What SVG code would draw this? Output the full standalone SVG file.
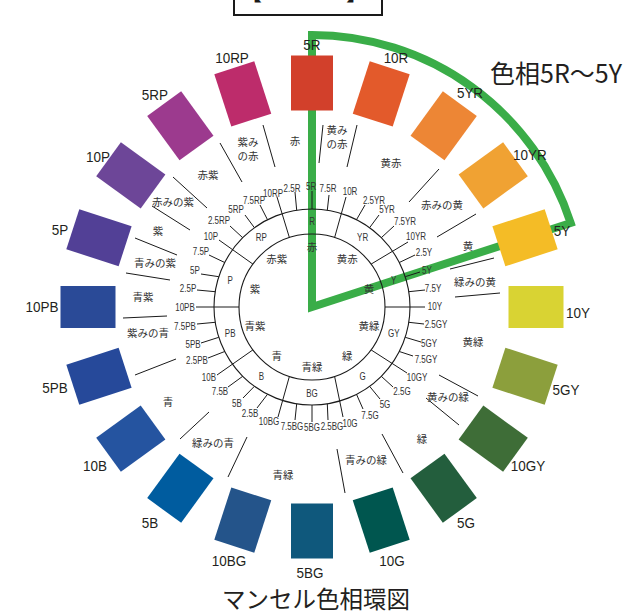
<svg xmlns="http://www.w3.org/2000/svg" width="627" height="614" viewBox="0 0 627 614">
<style>
.hl{font-family:"Liberation Sans",Arial,sans-serif;font-size:10px;fill:#333;text-anchor:middle;transform-box:fill-box;transform-origin:center;transform:scaleX(0.8)}
.big{font-family:"Liberation Sans",Arial,sans-serif;font-size:15px;fill:#231f20;text-anchor:middle;transform-box:fill-box;transform-origin:center;transform:scaleX(0.9)}
.jp{font-family:"Noto Sans CJK JP",sans-serif;font-size:10.5px;fill:#333;text-anchor:middle}
.ln{stroke:#1a1a1a;stroke-width:1;fill:none}
.ring{stroke:#1a1a1a;stroke-width:1.1;fill:none}
.sq{stroke:none}
</style>
<rect width="627" height="614" fill="#fff"/>
<g id="title-box">
<rect x="234" y="-12" width="148" height="27" fill="none" stroke="#1a1a1a" stroke-width="2"/>
<text x="251" y="0" font-family="Noto Sans CJK JP,sans-serif" font-size="22" text-anchor="middle" fill="#1a1a1a">【</text>
<text x="357" y="0" font-family="Noto Sans CJK JP,sans-serif" font-size="22" text-anchor="middle" fill="#1a1a1a">】</text>
</g>
<g id="hue-range">
<path d="M312,35 L312,307 L570.7,223 A272,272 0 0,0 312,35 Z" fill="none" stroke="#3aad48" stroke-width="8" stroke-miterlimit="10"/>
<text x="490" y="83" font-family="Noto Sans CJK JP,sans-serif" font-size="25" fill="#231f20">色相5R〜5Y</text>
</g>
<g id="squares">
<g id="n-5R"><rect class="sq" x="291" y="55.5" width="42" height="55" fill="#d2402b" transform="rotate(0 312 307)"/><text class="big" x="312" y="50">5R</text></g>
<g id="n-10R"><rect class="sq" x="291" y="55.5" width="42" height="55" fill="#e35a2b" transform="rotate(18 312 307)"/><text class="big" x="396" y="63">10R</text></g>
<g id="n-5YR"><rect class="sq" x="291" y="55.5" width="42" height="55" fill="#ed8635" transform="rotate(36 312 307)"/><text class="big" x="470" y="98">5YR</text></g>
<g id="n-10YR"><rect class="sq" x="291" y="55.5" width="42" height="55" fill="#f0a233" transform="rotate(54 312 307)"/><text class="big" x="530" y="160">10YR</text></g>
<g id="n-5Y"><rect class="sq" x="291" y="55.5" width="42" height="55" fill="#f4bc26" transform="rotate(72 312 307)"/><text class="big" x="562" y="236">5Y</text></g>
<g id="n-10Y"><rect class="sq" x="291" y="55.5" width="42" height="55" fill="#d9d333" transform="rotate(90 312 307)"/><text class="big" x="578" y="318">10Y</text></g>
<g id="n-5GY"><rect class="sq" x="291" y="55.5" width="42" height="55" fill="#8c9f3c" transform="rotate(108 312 307)"/><text class="big" x="566" y="395">5GY</text></g>
<g id="n-10GY"><rect class="sq" x="291" y="55.5" width="42" height="55" fill="#3e6d37" transform="rotate(126 312 307)"/><text class="big" x="528" y="471">10GY</text></g>
<g id="n-5G"><rect class="sq" x="291" y="55.5" width="42" height="55" fill="#235e3d" transform="rotate(144 312 307)"/><text class="big" x="466" y="528">5G</text></g>
<g id="n-10G"><rect class="sq" x="291" y="55.5" width="42" height="55" fill="#00564f" transform="rotate(162 312 307)"/><text class="big" x="392" y="566">10G</text></g>
<g id="n-5BG"><rect class="sq" x="291" y="55.5" width="42" height="55" fill="#0f587c" transform="rotate(180 312 307)"/><text class="big" x="310" y="578">5BG</text></g>
<g id="n-10BG"><rect class="sq" x="291" y="55.5" width="42" height="55" fill="#24548a" transform="rotate(198 312 307)"/><text class="big" x="229" y="566">10BG</text></g>
<g id="n-5B"><rect class="sq" x="291" y="55.5" width="42" height="55" fill="#005c9f" transform="rotate(216 312 307)"/><text class="big" x="150" y="528">5B</text></g>
<g id="n-10B"><rect class="sq" x="291" y="55.5" width="42" height="55" fill="#2554a0" transform="rotate(234 312 307)"/><text class="big" x="95" y="471">10B</text></g>
<g id="n-5PB"><rect class="sq" x="291" y="55.5" width="42" height="55" fill="#26499a" transform="rotate(252 312 307)"/><text class="big" x="55" y="393">5PB</text></g>
<g id="n-10PB"><rect class="sq" x="291" y="55.5" width="42" height="55" fill="#2a4a97" transform="rotate(270 312 307)"/><text class="big" x="42" y="312">10PB</text></g>
<g id="n-5P"><rect class="sq" x="291" y="55.5" width="42" height="55" fill="#524096" transform="rotate(288 312 307)"/><text class="big" x="60" y="235">5P</text></g>
<g id="n-10P"><rect class="sq" x="291" y="55.5" width="42" height="55" fill="#6d4698" transform="rotate(306 312 307)"/><text class="big" x="98" y="162">10P</text></g>
<g id="n-5RP"><rect class="sq" x="291" y="55.5" width="42" height="55" fill="#9c3a8e" transform="rotate(324 312 307)"/><text class="big" x="155" y="100">5RP</text></g>
<g id="n-10RP"><rect class="sq" x="291" y="55.5" width="42" height="55" fill="#bd2c6b" transform="rotate(342 312 307)"/><text class="big" x="232" y="63">10RP</text></g>
</g>
<g id="rings">
<circle class="ring" cx="312" cy="307" r="98"/>
<circle class="ring" cx="312" cy="307" r="73"/>
</g>
<g id="connectors">
<line class="ln" x1="295" y1="192" x2="296.7" y2="210.2"/>
<line class="ln" x1="312" y1="191" x2="312" y2="209"/>
<line class="ln" x1="329" y1="195" x2="327.3" y2="210.2"/>
<line class="ln" x1="346" y1="197" x2="334.6" y2="237.6"/>
<line class="ln" x1="365" y1="205" x2="356.5" y2="219.7"/>
<line class="ln" x1="379" y1="215" x2="369.6" y2="227.7"/>
<line class="ln" x1="394" y1="226" x2="381.3" y2="237.7"/>
<line class="ln" x1="408" y1="242" x2="371.1" y2="264.1"/>
<line class="ln" x1="415" y1="255" x2="399.3" y2="262.5"/>
<line class="ln" x1="420" y1="272" x2="405.2" y2="276.7"/>
<line class="ln" x1="425" y1="290" x2="408.8" y2="291.7"/>
<line class="ln" x1="425" y1="307" x2="385" y2="307"/>
<line class="ln" x1="424" y1="324" x2="408.8" y2="322.3"/>
<line class="ln" x1="421" y1="342" x2="405.2" y2="337.3"/>
<line class="ln" x1="413" y1="356" x2="399.3" y2="351.5"/>
<line class="ln" x1="407" y1="373" x2="371.1" y2="349.9"/>
<line class="ln" x1="393" y1="387" x2="381.3" y2="376.3"/>
<line class="ln" x1="380" y1="399" x2="369.6" y2="386.3"/>
<line class="ln" x1="363" y1="409" x2="356.5" y2="394.3"/>
<line class="ln" x1="343" y1="417" x2="334.6" y2="376.4"/>
<line class="ln" x1="328" y1="420" x2="327.3" y2="403.8"/>
<line class="ln" x1="312" y1="422" x2="312" y2="405"/>
<line class="ln" x1="295" y1="420" x2="296.7" y2="403.8"/>
<line class="ln" x1="278" y1="417" x2="289.4" y2="376.4"/>
<line class="ln" x1="257" y1="408" x2="267.5" y2="394.3"/>
<line class="ln" x1="243" y1="398" x2="254.4" y2="386.3"/>
<line class="ln" x1="228" y1="387" x2="242.7" y2="376.3"/>
<line class="ln" x1="217" y1="375" x2="252.9" y2="349.9"/>
<line class="ln" x1="208" y1="358" x2="224.7" y2="351.5"/>
<line class="ln" x1="201" y1="343" x2="218.8" y2="337.3"/>
<line class="ln" x1="197" y1="324" x2="215.2" y2="322.3"/>
<line class="ln" x1="196" y1="307" x2="239" y2="307"/>
<line class="ln" x1="197" y1="290" x2="215.2" y2="291.7"/>
<line class="ln" x1="201" y1="274" x2="218.8" y2="276.7"/>
<line class="ln" x1="209" y1="255" x2="224.7" y2="262.5"/>
<line class="ln" x1="219" y1="240" x2="252.9" y2="264.1"/>
<line class="ln" x1="230" y1="226" x2="242.7" y2="237.7"/>
<line class="ln" x1="245" y1="215" x2="254.4" y2="227.7"/>
<line class="ln" x1="260" y1="205" x2="267.5" y2="219.7"/>
<line class="ln" x1="277" y1="197" x2="289.4" y2="237.6"/>
<line class="ln" x1="263" y1="125" x2="275" y2="167"/>
<line class="ln" x1="220" y1="143" x2="242" y2="182"/>
<line class="ln" x1="173" y1="177" x2="207" y2="208"/>
<line class="ln" x1="152" y1="206" x2="190" y2="230"/>
<line class="ln" x1="135" y1="238" x2="177" y2="255"/>
<line class="ln" x1="126" y1="273" x2="170" y2="280"/>
<line class="ln" x1="123" y1="318" x2="167" y2="316"/>
<line class="ln" x1="135" y1="375" x2="176" y2="359"/>
<line class="ln" x1="180" y1="439" x2="209" y2="412"/>
<line class="ln" x1="228" y1="477" x2="247" y2="437"/>
<line class="ln" x1="337" y1="449" x2="345" y2="493"/>
<line class="ln" x1="382" y1="434" x2="403" y2="473"/>
<line class="ln" x1="426" y1="398" x2="459" y2="425"/>
<line class="ln" x1="439" y1="375" x2="478" y2="396"/>
<line class="ln" x1="455" y1="297" x2="500" y2="293"/>
<line class="ln" x1="450" y1="269" x2="494" y2="258"/>
<line class="ln" x1="437" y1="237" x2="476" y2="214"/>
<line class="ln" x1="409" y1="202" x2="439" y2="169"/>
<line class="ln" x1="347" y1="167" x2="357" y2="125"/>
<line class="ln" x1="319" y1="163" x2="323" y2="125"/>
</g>
<g id="hue-labels">
<text class="hl" x="292" y="191.6">2.5R</text>
<text class="hl" x="311" y="189.6">5R</text>
<text class="hl" x="328" y="191.6">7.5R</text>
<text class="hl" x="350" y="194.6">10R</text>
<text class="hl" x="374" y="203.6">2.5YR</text>
<text class="hl" x="387" y="212.6">5YR</text>
<text class="hl" x="405" y="224.6">7.5YR</text>
<text class="hl" x="416" y="239.6">10YR</text>
<text class="hl" x="424" y="255.6">2.5Y</text>
<text class="hl" x="427" y="273.6">5Y</text>
<text class="hl" x="433" y="291.6">7.5Y</text>
<text class="hl" x="435" y="309.6">10Y</text>
<text class="hl" x="436" y="327.6">2.5GY</text>
<text class="hl" x="429" y="346.6">5GY</text>
<text class="hl" x="426" y="362.6">7.5GY</text>
<text class="hl" x="417" y="380.6">10GY</text>
<text class="hl" x="402" y="394.6">2.5G</text>
<text class="hl" x="385" y="407.6">5G</text>
<text class="hl" x="370" y="418.6">7.5G</text>
<text class="hl" x="350" y="426.6">10G</text>
<text class="hl" x="332" y="429.6">2.5BG</text>
<text class="hl" x="312" y="430.6">5BG</text>
<text class="hl" x="292" y="429.6">7.5BG</text>
<text class="hl" x="269" y="424.6">10BG</text>
<text class="hl" x="250" y="416.6">2.5B</text>
<text class="hl" x="237" y="406.6">5B</text>
<text class="hl" x="220" y="394.6">7.5B</text>
<text class="hl" x="209" y="380.6">10B</text>
<text class="hl" x="197" y="363.6">2.5PB</text>
<text class="hl" x="193" y="347.6">5PB</text>
<text class="hl" x="185" y="329.6">7.5PB</text>
<text class="hl" x="185" y="310.6">10PB</text>
<text class="hl" x="188" y="291.6">2.5P</text>
<text class="hl" x="195" y="273.6">5P</text>
<text class="hl" x="201" y="254.6">7.5P</text>
<text class="hl" x="211" y="239.6">10P</text>
<text class="hl" x="219" y="223.6">2.5RP</text>
<text class="hl" x="236" y="212.6">5RP</text>
<text class="hl" x="254" y="203.6">7.5RP</text>
<text class="hl" x="273" y="196.6">10RP</text>
</g>
<g id="sector-labels">
<text class="hl" x="312" y="224.6">R</text>
<text class="hl" x="362.6" y="241">YR</text>
<text class="hl" x="393.8" y="284">Y</text>
<text class="hl" x="393.8" y="337.2">GY</text>
<text class="hl" x="362.6" y="380.2">G</text>
<text class="hl" x="312" y="396.6">BG</text>
<text class="hl" x="261.4" y="380.2">B</text>
<text class="hl" x="230.2" y="337.2">PB</text>
<text class="hl" x="230.2" y="284">P</text>
<text class="hl" x="261.4" y="241">RP</text>
</g>
<g id="inner-names">
<text class="jp" x="312" y="251">赤</text>
<text class="jp" x="347.3" y="262.5">黄赤</text>
<text class="jp" x="369.1" y="292.5">黄</text>
<text class="jp" x="369.1" y="329.5">黄緑</text>
<text class="jp" x="347.3" y="359.5">緑</text>
<text class="jp" x="312" y="371">青緑</text>
<text class="jp" x="276.7" y="359.5">青</text>
<text class="jp" x="254.9" y="329.5">青紫</text>
<text class="jp" x="254.9" y="292.5">紫</text>
<text class="jp" x="276.7" y="262.5">赤紫</text>
</g>
<g id="outer-names">
<text class="jp" x="295" y="145">赤</text>
<text class="jp" x="248" y="146">紫み</text>
<text class="jp" x="248" y="160">の赤</text>
<text class="jp" x="337" y="134">黄み</text>
<text class="jp" x="337" y="148">の赤</text>
<text class="jp" x="208" y="179">赤紫</text>
<text class="jp" x="173" y="206">赤みの紫</text>
<text class="jp" x="158" y="235">紫</text>
<text class="jp" x="155" y="267">青みの紫</text>
<text class="jp" x="143" y="301">青紫</text>
<text class="jp" x="148" y="337">紫みの青</text>
<text class="jp" x="168" y="406">青</text>
<text class="jp" x="213" y="447">緑みの青</text>
<text class="jp" x="283" y="479">青緑</text>
<text class="jp" x="366" y="464">青みの緑</text>
<text class="jp" x="422" y="443">緑</text>
<text class="jp" x="448" y="401">黄みの緑</text>
<text class="jp" x="473" y="346">黄緑</text>
<text class="jp" x="475" y="286">緑みの黄</text>
<text class="jp" x="468" y="250">黄</text>
<text class="jp" x="442" y="209">赤みの黄</text>
<text class="jp" x="391" y="167">黄赤</text>
</g>
<text x="316" y="608" font-family="Noto Sans CJK JP,sans-serif" font-size="23.5" text-anchor="middle" fill="#231f20">マンセル色相環図</text>
</svg>
